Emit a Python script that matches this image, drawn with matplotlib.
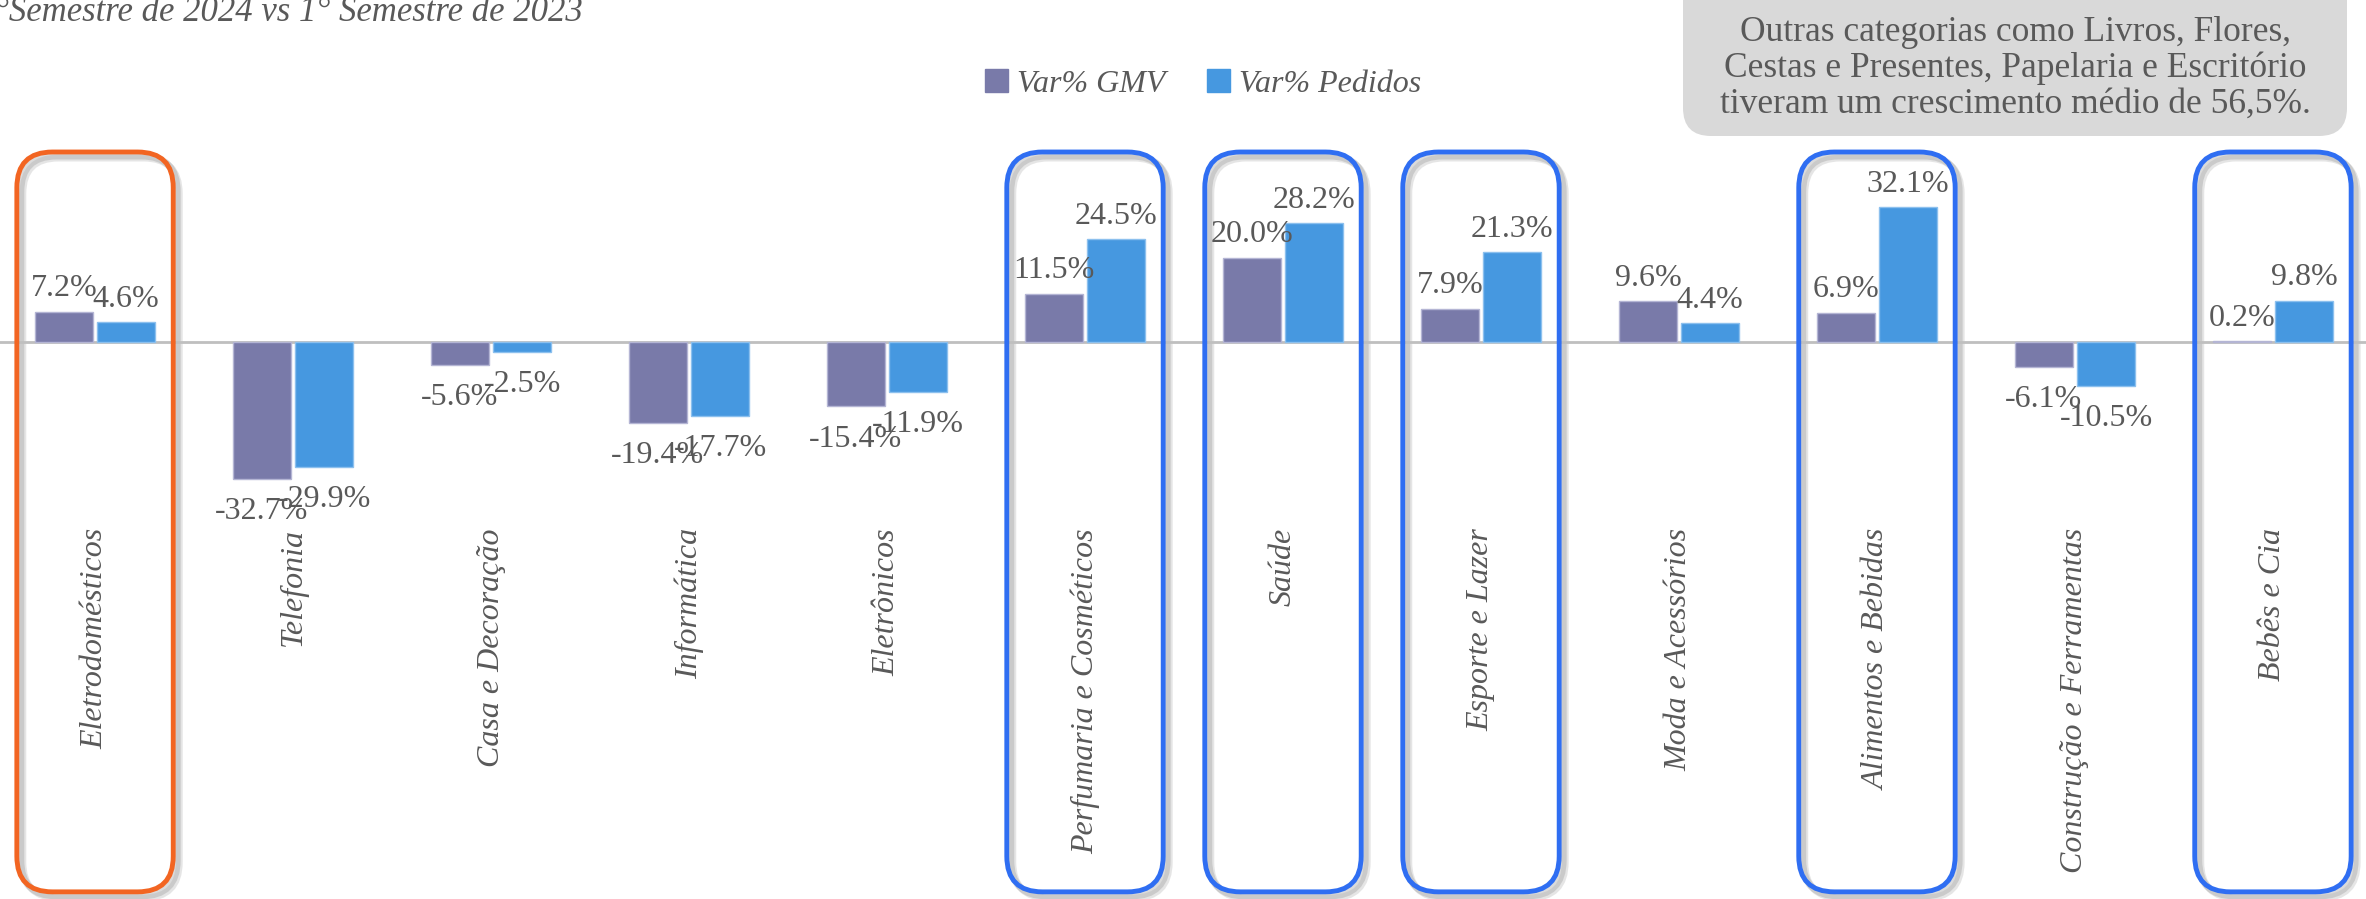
import numpy as np
import matplotlib
matplotlib.use("Agg")
import matplotlib.pyplot as plt
from matplotlib.patches import FancyBboxPatch
from matplotlib.transforms import IdentityTransform

plt.rcParams['font.family'] = ['Liberation Serif', 'DejaVu Serif']

# variacao 1o semestre 2024 vs 1o semestre 2023, por categoria
categorias = ["Eletrodomésticos", "Telefonia", "Casa e Decoração", "Informática",
              "Eletrônicos", "Perfumaria e Cosméticos", "Saúde", "Esporte e Lazer",
              "Moda e Acessórios", "Alimentos e Bebidas", "Construção e Ferramentas",
              "Bebês e Cia"]
var_gmv = [7.2, -32.7, -5.6, -19.4, -15.4, 11.5, 20.0, 7.9, 9.6, 6.9, -6.1, 0.2]
var_pedidos = [4.6, -29.9, -2.5, -17.7, -11.9, 24.5, 28.2, 21.3, 4.4, 32.1, -10.5, 9.8]
destaque_laranja = ["Eletrodomésticos"]
destaque_azul = ["Perfumaria e Cosméticos", "Saúde", "Esporte e Lazer",
                 "Alimentos e Bebidas", "Bebês e Cia"]
titulo = "°Semestre de 2024 vs 1° Semestre de 2023"
nota = ("Outras categorias como Livros, Flores,\n"
        "Cestas e Presentes, Papelaria e Escritório\n"
        "tiveram um crescimento médio de 56,5%.")

COR_GMV = "#797aa9"
COR_PED = "#4698e0"
COR_TXT = "#595959"
W, H = 2366, 899

fig = plt.figure(figsize=(W / 100, H / 100), dpi=100)
ax = fig.add_axes([0, 0, 1, 1])
ax.axis("off")

x = np.arange(len(categorias))
xmin, xmax = -0.48, 11.47
ymin, ymax = -132.7, 81.4
ax.set_xlim(xmin, xmax)
ax.set_ylim(ymin, ymax)

dx, bw = 0.157, 0.293
b1 = ax.bar(x - dx, var_gmv, bw, color=COR_GMV, edgecolor="#b4b5d4", linewidth=1, zorder=3)
b2 = ax.bar(x + dx, var_pedidos, bw, color=COR_PED, edgecolor="#8cc0ee", linewidth=1, zorder=3)
ax.axhline(0, color="#bfbfbf", lw=2, zorder=2)

# rotulos de valor
for bars, vals in ((b1, var_gmv), (b2, var_pedidos)):
    for r, v in zip(bars, vals):
        cx = r.get_x() + r.get_width() / 2
        if v >= 0:
            ax.annotate(f"{v:.1f}%", (cx, v), xytext=(0, 6), textcoords="offset points",
                        ha="center", va="bottom", fontsize=23, color=COR_TXT, zorder=4)
        else:
            ax.annotate(f"{v:.1f}%", (cx, v), xytext=(0, -13), textcoords="offset points",
                        ha="center", va="top", fontsize=23, color=COR_TXT, zorder=4)

# nomes das categorias, verticais
for xi, nome in zip(x, categorias):
    ax.text(xi, -44.4, nome, rotation=90, ha="center", va="top", fontsize=23,
            style="italic", color=COR_TXT)

# caixas arredondadas de destaque
px_x = W / (xmax - xmin)
px_y = H / (ymax - ymin)
asp = px_x / px_y
bx_w, bx_top, bx_bot = 0.79, 45.2, -131.0
for nome in destaque_laranja + destaque_azul:
    i = categorias.index(nome)
    cor = "#f26522" if nome in destaque_laranja else "#2f6ef2"
    for off, a in ((6, 0.25), (4, 0.35)):
        sh = FancyBboxPatch((i - bx_w / 2 + off / px_x, bx_bot - off / px_y), bx_w, bx_top - bx_bot,
                            boxstyle="round,pad=0,rounding_size=0.18", mutation_aspect=asp,
                            fc="none", ec="#9a9a9a", lw=5, alpha=a, zorder=1)
        ax.add_patch(sh)
    box = FancyBboxPatch((i - bx_w / 2, bx_bot), bx_w, bx_top - bx_bot,
                         boxstyle="round,pad=0,rounding_size=0.18", mutation_aspect=asp,
                         fc="none", ec=cor, lw=3.5, zorder=5)
    ax.add_patch(box)

# titulo cortado no canto
fig.text(-0.002, 1.004, titulo, ha="left", va="top", fontsize=25, style="italic", color=COR_TXT)

# legenda
h1 = plt.Rectangle((0, 0), 1, 1, color=COR_GMV)
h2 = plt.Rectangle((0, 0), 1, 1, color=COR_PED)
leg = fig.legend([h1, h2], ["Var% GMV", "Var% Pedidos"], loc="center",
                 bbox_to_anchor=(0.5086, 1 - 84 / H), ncol=2, frameon=False,
                 handlelength=0.7, handleheight=0.7, handletextpad=0.3, columnspacing=1.3,
                 prop={"size": 23, "style": "italic"})
for t in leg.get_texts():
    t.set_color(COR_TXT)

# caixa de nota cinza no canto superior direito
nb = FancyBboxPatch((1683, H - 136), 664, 170, boxstyle="round,pad=0,rounding_size=28",
                    transform=IdentityTransform(), fc="#d9d9d9", ec="none")
fig.patches.append(nb)
fig.text(2015 / W, 1 - 68 / H, nota, ha="center", va="center", fontsize=25.5,
         linespacing=1.1, color=COR_TXT)

fig.savefig("out.png", dpi=100)
